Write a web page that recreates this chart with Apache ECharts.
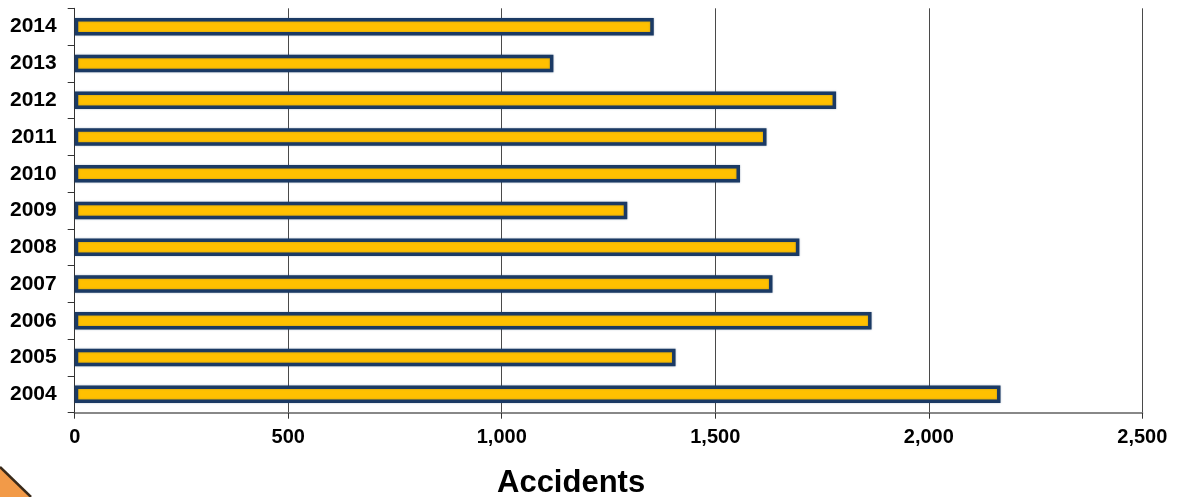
<!DOCTYPE html>
<html>
<head>
<meta charset="utf-8">
<script src="https://cdn.jsdelivr.net/npm/echarts@6/dist/echarts.min.js"></script>
<style>
html,body{margin:0;padding:0;background:#fff;}
#chart{width:1177px;height:497px;}
</style>
</head>
<body>
<div id="chart"></div>
<script>
const years = ['2004','2005','2006','2007','2008','2009','2010','2011','2012','2013','2014'];
const accidents = [2168, 1407, 1866, 1634, 1697, 1294, 1558, 1620, 1783, 1121, 1356];
const xTicks = [0, 500, 1000, 1500, 2000, 2500];
const axisTitle = 'Accidents';

const chart = echarts.init(document.getElementById('chart'), null, {renderer:'canvas'});
const font = 'Liberation Sans, Arial, sans-serif';
chart.setOption({
  animation: false,
  backgroundColor: '#ffffff',
  grid: {left: 74.7, right: 34.7, top: 8.3, bottom: 84.3, containLabel: false},
  xAxis: {
    type: 'value',
    min: xTicks[0],
    max: xTicks[xTicks.length-1],
    interval: xTicks[1]-xTicks[0],
    axisLine: {show: true, lineStyle: {color: '#888888', width: 2}},
    axisTick: {show: true, length: 6, lineStyle: {color: '#333333', width: 1}},
    splitLine: {show: true, lineStyle: {color: '#4a4a4a', width: 1}},
    axisLabel: {
      margin: 15,
      color: '#000',
      fontFamily: font,
      fontWeight: 'bold',
      fontSize: 20,
      formatter: v => v.toLocaleString('en-US')
    }
  },
  yAxis: {
    type: 'category',
    data: years,
    axisLine: {show: true, lineStyle: {color: '#333333', width: 1}},
    axisTick: {show: true, length: 7, lineStyle: {color: '#333333', width: 1}},
    axisLabel: {
      margin: 18,
      color: '#000',
      fontFamily: font,
      fontWeight: 'bold',
      fontSize: 21
    },
    splitLine: {show: false}
  },
  series: [{
    type: 'bar',
    data: accidents,
    barWidth: 17.5,
    itemStyle: {
      color: '#FFC000',
      borderColor: '#1B3A64',
      borderWidth: 3.5,
      shadowColor: 'rgba(27,58,100,0.35)',
      shadowBlur: 2
    }
  }],
  graphic: [
    {
      type: 'text',
      left: 572 - 75,
      top: 468,
      style: {
        text: axisTitle,
        fill: '#000',
        font: 'bold 31px ' + font
      }
    },
    {
      type: 'polygon',
      shape: {points: [[0, 467], [31, 497], [0, 497]]},
      style: {fill: '#F29A48'}
    },
    {
      type: 'line',
      shape: {x1: 0, y1: 467, x2: 31, y2: 497},
      style: {stroke: '#3a2a1a', lineWidth: 2.5}
    }
  ]
});
</script>
</body>
</html>
